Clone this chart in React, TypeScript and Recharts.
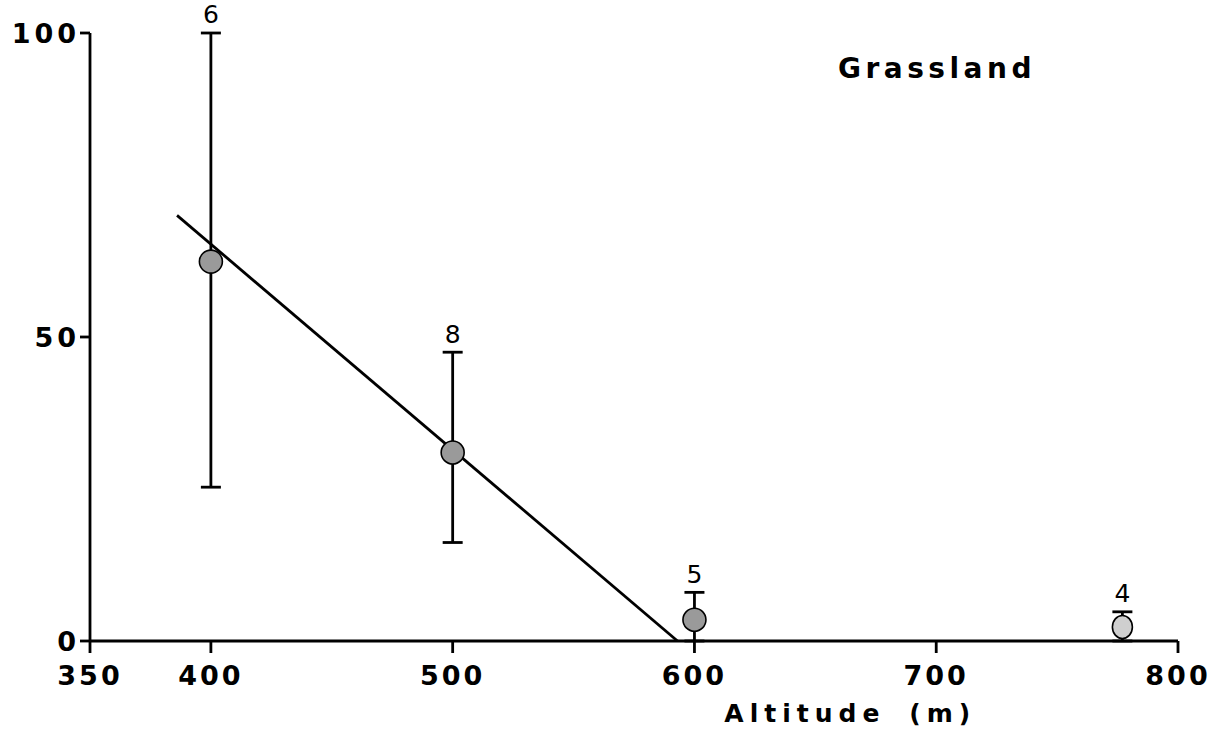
import { ComposedChart, Scatter, XAxis, YAxis, ErrorBar, LabelList } from "recharts";

const altitudes = [400, 500, 600, 777];
const means = [62.4, 31, 3.5, 2.3];
const lows = [25.3, 16.2, 0, 0];
const highs = [100, 47.5, 8, 4.8];
const sampleSizes = [6, 8, 5, 4];

const fitAltitudes = [386, 593];
const fitValues = [70, 0];

const xTicks = [350, 400, 500, 600, 700, 800];
const yTicks = [0, 50, 100];

const points = altitudes.map((x, i) => ({
  x,
  y: means[i],
  err: [means[i] - lows[i], highs[i] - means[i]],
}));
const labelPoints = altitudes.map((x, i) => ({ x, y: highs[i], n: sampleSizes[i] }));
const fitLine = fitAltitudes.map((x, i) => ({ x, y: fitValues[i] }));

const FONT = "'DejaVu Sans', sans-serif";

function Marker(props: any) {
  const { cx, cy, index } = props;
  const light = index === 3;
  return (
    <ellipse
      cx={cx}
      cy={cy}
      rx={light ? 10 : 11.5}
      ry={11.5}
      fill={light ? "#cfcfcf" : "#9a9a9a"}
      stroke="#000"
      strokeWidth={1.6}
    />
  );
}

function AxisTitle(props: any) {
  const { viewBox } = props;
  const x = viewBox.x + viewBox.width * 0.583;
  return (
    <text x={x} y={722} fontFamily={FONT} fontWeight={700} fontSize={25} letterSpacing={6} fill="#000">
      <tspan>Altitude</tspan>
      <tspan dx={24}>(m)</tspan>
    </text>
  );
}

export default function App() {
  return (
    <div style={{ position: "absolute", left: 0, top: 0, width: 1212, height: 733, background: "#fff" }}>
      <ComposedChart width={1212} height={733} margin={{ top: 33, right: 34, bottom: 0, left: 0 }}>
        <XAxis
          type="number"
          dataKey="x"
          domain={[350, 800]}
          ticks={xTicks}
          height={92}
          axisLine={{ stroke: "#000", strokeWidth: 2.8 }}
          tickLine={{ stroke: "#000", strokeWidth: 2.8 }}
          tickSize={12}
          tickMargin={13}
          tick={{ fill: "#000", fontFamily: FONT, fontWeight: 700, fontSize: 27, letterSpacing: 3 }}
          label={{ content: AxisTitle }}
        />
        <YAxis
          type="number"
          dataKey="y"
          domain={[0, 100]}
          ticks={yTicks}
          width={90}
          axisLine={{ stroke: "#000", strokeWidth: 2.8 }}
          tickLine={{ stroke: "#000", strokeWidth: 2.8 }}
          tickSize={10}
          tickMargin={0}
          tick={{ fill: "#000", fontFamily: FONT, fontWeight: 700, fontSize: 27, letterSpacing: 4 }}
        />
        <Scatter
          data={fitLine}
          line={{ stroke: "#000", strokeWidth: 2.8 }}
          shape={() => <g />}
          isAnimationActive={false}
        />
        <Scatter data={points} shape={Marker} isAnimationActive={false}>
          <ErrorBar dataKey="err" direction="y" width={10} stroke="#000" strokeWidth={2.8} />
        </Scatter>
        <Scatter data={labelPoints} shape={() => <g />} isAnimationActive={false}>
          <LabelList
            dataKey="n"
            position="top"
            offset={5}
            fill="#000"
            fontFamily={FONT}
            fontSize={25}
          />
        </Scatter>
      </ComposedChart>
      <div
        style={{
          position: "absolute",
          left: 838,
          top: 52,
          fontFamily: FONT,
          fontWeight: 700,
          fontSize: 28,
          letterSpacing: 4.5,
          color: "#000",
          lineHeight: "34px",
        }}
      >
        Grassland
      </div>
    </div>
  );
}
